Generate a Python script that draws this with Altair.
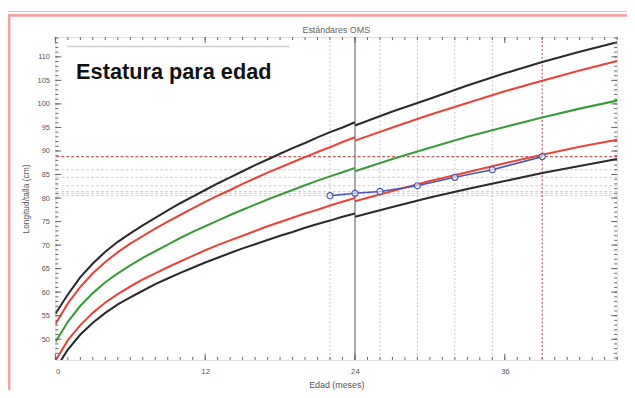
import altair as alt
import pandas as pd

# ---------------- data ----------------
ages_length = [0, 1, 2, 3, 4, 5, 6, 7, 8, 9, 10, 11, 12, 13, 14, 15, 16, 17, 18, 19, 20, 21, 22, 23, 24]
ages_height = [24, 27, 30, 33, 36, 39, 42, 45]

series_names = ["-3 DE", "-2 DE", "Mediana", "+2 DE", "+3 DE"]
series_colors = ["#2b2b2b", "#e8453c", "#3d9a3d", "#e8453c", "#2b2b2b"]

len_m3 = [43.6, 47.8, 51.0, 53.5, 55.6, 57.4, 58.9, 60.3, 61.7, 62.9, 64.1, 65.2, 66.3, 67.3, 68.3, 69.3, 70.2, 71.1, 72.0, 72.8, 73.7, 74.5, 75.2, 76.0, 76.7]
len_m2 = [45.4, 49.8, 53.0, 55.6, 57.8, 59.6, 61.2, 62.7, 64.0, 65.3, 66.5, 67.7, 68.9, 70.0, 71.0, 72.0, 73.0, 74.0, 74.9, 75.8, 76.7, 77.5, 78.4, 79.2, 80.0]
len_0 = [49.4, 53.7, 57.1, 59.8, 62.1, 64.0, 65.7, 67.3, 68.7, 70.1, 71.5, 72.8, 74.0, 75.2, 76.4, 77.5, 78.6, 79.7, 80.7, 81.7, 82.7, 83.7, 84.6, 85.5, 86.4]
len_p2 = [53.2, 57.6, 61.1, 64.0, 66.4, 68.5, 70.3, 71.9, 73.5, 75.0, 76.4, 77.8, 79.2, 80.5, 81.7, 83.0, 84.2, 85.4, 86.5, 87.6, 88.7, 89.8, 90.8, 91.9, 92.9]
len_p3 = [55.4, 59.5, 63.2, 66.1, 68.6, 70.7, 72.5, 74.2, 75.8, 77.4, 78.9, 80.3, 81.7, 83.1, 84.4, 85.7, 87.0, 88.2, 89.4, 90.6, 91.7, 92.9, 94.0, 95.0, 96.1]

ht_m3 = [76.0, 78.1, 80.1, 81.9, 83.6, 85.3, 86.8, 88.3]
ht_m2 = [79.3, 81.5, 83.6, 85.5, 87.4, 89.2, 90.9, 92.4]
ht_0 = [85.7, 88.3, 90.7, 93.0, 95.1, 97.1, 99.0, 100.7]
ht_p2 = [92.2, 95.0, 97.7, 100.2, 102.7, 104.9, 107.1, 109.1]
ht_p3 = [95.4, 98.4, 101.1, 103.9, 106.5, 108.9, 111.1, 113.1]

child_ages = [22, 24, 26, 29, 32, 35, 39]
child_cm = [80.5, 81.0, 81.4, 82.6, 84.4, 86.0, 88.8]

x_tick_labels = [0, 12, 24, 36]
y_tick_labels = [50, 55, 60, 65, 70, 75, 80, 85, 90, 95, 100, 105, 110]

chart_title = "Estándares OMS"
big_text = "Estatura para edad"

# ---------------- tables ----------------
rows = []
for name, lv, hv in zip(series_names,
                        [len_m3, len_m2, len_0, len_p2, len_p3],
                        [ht_m3, ht_m2, ht_0, ht_p2, ht_p3]):
    for a, v in zip(ages_length, lv):
        rows.append({"edad": a, "cm": v, "serie": name, "tramo": name + "L"})
    for a, v in zip(ages_height, hv):
        rows.append({"edad": a, "cm": v, "serie": name, "tramo": name + "H"})
curves = pd.DataFrame(rows)

child = pd.DataFrame({"edad": child_ages, "cm": child_cm})
last_age = child_ages[-1]
last_cm = child_cm[-1]

vlines = pd.DataFrame({"edad": child_ages})
vl_grey = vlines[(vlines.edad != 24) & (vlines.edad != last_age)]
vl_24 = vlines[vlines.edad == 24]
vl_red = vlines[vlines.edad == last_age]
hl = pd.DataFrame({"cm": child_cm})
hl_grey = hl[hl.cm != last_cm]
hl_red = hl[hl.cm == last_cm]

minor_x = pd.DataFrame({"edad": list(range(0, 46))})
major_x = pd.DataFrame({"edad": x_tick_labels})
minor_y = pd.DataFrame({"cm": list(range(46, 115))})
major_y = pd.DataFrame({"cm": y_tick_labels})

W, H = 569, 327
xs = alt.Scale(domain=[0, 45], nice=False, zero=False)
ys = alt.Scale(domain=[45.6, 114.2], nice=False, zero=False)

xax = alt.Axis(values=x_tick_labels, tickSize=0, domain=False, grid=False,
               labelFontSize=8, labelColor="#555", labelPadding=8, labelFont="Liberation Sans",
               title="Edad (meses)", titleFontSize=9, titleFontWeight="normal",
               titleColor="#555", titlePadding=5, titleFont="Liberation Sans")
yax = alt.Axis(values=y_tick_labels, tickSize=0, domain=False, grid=False,
               labelFontSize=7.5, labelColor="#555", labelPadding=6, labelFont="Liberation Sans",
               title="Longitud/talla (cm)", titleFontSize=8.5, titleFontWeight="normal",
               titleColor="#555", titlePadding=7, titleFont="Liberation Sans")

base_x = alt.X("edad:Q", scale=xs, axis=xax)
base_y = alt.Y("cm:Q", scale=ys, axis=yax)

# reference lines
v_grey = alt.Chart(vl_grey).mark_rule(color="#c4c4c4", strokeWidth=1, strokeDash=[2, 2]).encode(x=base_x)
v_24 = alt.Chart(vl_24).mark_rule(color="#a8a8a8", strokeWidth=2).encode(x=base_x)
v_red = alt.Chart(vl_red).mark_rule(color="#c0605e", strokeWidth=1.2, strokeDash=[2, 2]).encode(x=base_x)
h_grey = alt.Chart(hl_grey).mark_rule(color="#cfcfcf", strokeWidth=1, strokeDash=[3, 2]).encode(y=base_y)
h_red = alt.Chart(hl_red).mark_rule(color="#c0605e", strokeWidth=1.2, strokeDash=[3, 2]).encode(y=base_y)

lines = alt.Chart(curves).mark_line(strokeWidth=2.1, clip=True).encode(
    x=base_x, y=base_y,
    color=alt.Color("serie:N", scale=alt.Scale(domain=series_names, range=series_colors), legend=None),
    detail="tramo:N",
)

child_line = alt.Chart(child).mark_line(color="#4a58b0", strokeWidth=1.6).encode(x=base_x, y=base_y)
child_pts = alt.Chart(child).mark_point(shape="circle", size=38, filled=False, color="#4a58b0",
                                        strokeWidth=1.2, fill="white", fillOpacity=0.6).encode(x=base_x, y=base_y)

# inward axis ticks on all four sides
tick_col = "#666"
tb_minor = alt.Chart(minor_x).mark_rule(color=tick_col, strokeWidth=1).encode(x=base_x, y=alt.value(H), y2=alt.value(H - 3))
tb_major = alt.Chart(major_x).mark_rule(color=tick_col, strokeWidth=1).encode(x=base_x, y=alt.value(H), y2=alt.value(H - 6))
tt_minor = alt.Chart(minor_x).mark_rule(color=tick_col, strokeWidth=1).encode(x=base_x, y=alt.value(0), y2=alt.value(3))
tt_major = alt.Chart(major_x).mark_rule(color=tick_col, strokeWidth=1).encode(x=base_x, y=alt.value(0), y2=alt.value(6))
tl_minor = alt.Chart(minor_y).mark_rule(color=tick_col, strokeWidth=1).encode(y=base_y, x=alt.value(0), x2=alt.value(3))
tl_major = alt.Chart(major_y).mark_rule(color=tick_col, strokeWidth=1).encode(y=base_y, x=alt.value(0), x2=alt.value(6))
tr_minor = alt.Chart(minor_y).mark_rule(color=tick_col, strokeWidth=1).encode(y=base_y, x=alt.value(W), x2=alt.value(W - 3))
tr_major = alt.Chart(major_y).mark_rule(color=tick_col, strokeWidth=1).encode(y=base_y, x=alt.value(W), x2=alt.value(W - 6))

# texts and decorations
label_df = pd.DataFrame({"t": [big_text], "title": [chart_title]})
big_label = alt.Chart(label_df).mark_text(
    align="left", baseline="alphabetic", fontSize=22, fontWeight="bold",
    font="Liberation Sans, Arial, sans-serif", color="#111",
).encode(text="t:N", x=alt.value(21), y=alt.value(42))
title_text = alt.Chart(label_df).mark_text(
    align="center", baseline="alphabetic", fontSize=9, font="Liberation Sans", color="#666",
).encode(text="title:N", x=alt.value(W / 2), y=alt.value(-4))
under_rule = alt.Chart(label_df).mark_rule(color="#d0d0d0", strokeWidth=1.5).encode(
    x=alt.value(12), x2=alt.value(237), y=alt.value(9.5))
pink_top = alt.Chart(label_df).mark_rule(color="#f3a3a3", strokeWidth=3).encode(
    x=alt.value(-48), x2=alt.value(640), y=alt.value(-22))
pink_left = alt.Chart(label_df).mark_rule(color="#f3a3a3", strokeWidth=3).encode(
    x=alt.value(-47), y=alt.value(-23), y2=alt.value(400))
grey_top = alt.Chart(label_df).mark_rule(color="#c8c8c8", strokeWidth=1).encode(
    x=alt.value(-48), x2=alt.value(640), y=alt.value(-26))

chart = alt.layer(
    v_grey, h_grey, v_24, v_red, h_red,
    lines, child_line, child_pts,
    tb_minor, tb_major, tt_minor, tt_major, tl_minor, tl_major, tr_minor, tr_major,
    under_rule, big_label, title_text, grey_top, pink_top, pink_left,
).properties(
    width=W, height=H,
    autosize=alt.AutoSizeParams(type="none"),
    padding={"left": 48, "top": 27, "right": 10, "bottom": 28},
).configure_view(stroke="#5a5a5a", strokeWidth=1.5).configure(background="white")

chart.save("out.html", embed_options={"renderer": "svg", "actions": False})
